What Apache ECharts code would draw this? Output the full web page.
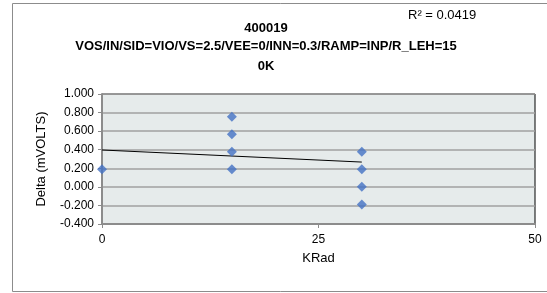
<!DOCTYPE html>
<html lang="en">
<head>
	<meta charset="UTF-8">
	<title>400019</title>
	<style>
		body { margin: 0; background: #fff; }
	</style>
</head>
<body>
<div id="chart" style="width:547px;height:293px;"></div>
<script src="https://cdn.jsdelivr.net/npm/echarts@6/dist/echarts.min.js"></script>
<script>
	var krad = [0, 15, 15, 15, 15, 30, 30, 30, 30];
	var delta = [0.19, 0.755, 0.567, 0.378, 0.19, 0.378, 0.19, 0.0, -0.19];
	// trendline ends as drawn
	var trendX = [0, 30];
	var trendY = [0.397, 0.267];
	var titleLines = ['400019', 'VOS/IN/SID=VIO/VS=2.5/VEE=0/INN=0.3/RAMP=INP/R_LEH=15', '0K'];
	var rSquared = 'R² = 0.0419';

	var points = krad.map(function (x, i) { return [x, delta[i]]; });
	var trend = trendX.map(function (x, i) { return [x, trendY[i]]; });

	var myChart = echarts.init(document.getElementById('chart'));
	var font = '"Liberation Sans", Arial, sans-serif';

	var titleY = [28, 46, 66];
	var graphics = titleLines.map(function (t, i) {
		return {
			type: 'text',
			x: 266, y: titleY[i],
			style: { text: t, fill: '#000', font: 'bold 13px ' + font, textAlign: 'center', textVerticalAlign: 'middle' },
			silent: true
		};
	});
	graphics.push({
		type: 'text',
		x: 408, y: 15,
		style: { text: rSquared, fill: '#000', font: '13px ' + font, textAlign: 'left', textVerticalAlign: 'middle' },
		silent: true
	});
	graphics.push({
		type: 'rect',
		shape: { x: 12.5, y: 3.5, width: 540, height: 288 },
		style: { fill: null, stroke: '#8c8c8c', lineWidth: 1 },
		silent: true
	});

	var option = {
		animation: false,
		textStyle: { fontFamily: font },
		graphic: graphics,
		grid: {
			left: 102, right: 12, top: 94, bottom: 69,
			show: true,
			backgroundColor: '#e6ebeb',
			borderColor: '#000',
			borderWidth: 1
		},
		xAxis: {
			type: 'value',
			min: 0, max: 50, interval: 25,
			name: 'KRad',
			nameLocation: 'middle',
			nameGap: 28,
			nameTextStyle: { fontSize: 13, color: '#000' },
			axisLine: { show: true, onZero: false, lineStyle: { color: '#8c8c8c', width: 2 } },
			axisTick: { show: true, length: 4, lineStyle: { color: '#8c8c8c' } },
			axisLabel: { fontSize: 12, color: '#000', margin: 10 },
			splitLine: { show: false }
		},
		yAxis: {
			type: 'value',
			min: -0.4, max: 1, interval: 0.2,
			name: 'Delta (mVOLTS)',
			nameLocation: 'middle',
			nameGap: 54,
			nameTextStyle: { fontSize: 13, color: '#000' },
			axisLine: { show: true, onZero: false, lineStyle: { color: '#8c8c8c', width: 2 } },
			axisTick: { show: true, length: 4, lineStyle: { color: '#8c8c8c' } },
			axisLabel: { fontSize: 12, color: '#000', margin: 8, formatter: function (v) { return v.toFixed(3); } },
			splitLine: { show: true, lineStyle: { color: '#a0a0a0', width: 1.5 } }
		},
		series: [
			{
				type: 'line',
				data: trend,
				symbol: 'none',
				lineStyle: { color: '#000', width: 1 },
				z: 3
			},
			{
				type: 'scatter',
				data: points,
				symbol: 'diamond',
				symbolSize: 10,
				itemStyle: { color: '#4472c4' },
				z: 4
			}
		]
	};

	myChart.setOption(option);
</script>
</body>
</html>
